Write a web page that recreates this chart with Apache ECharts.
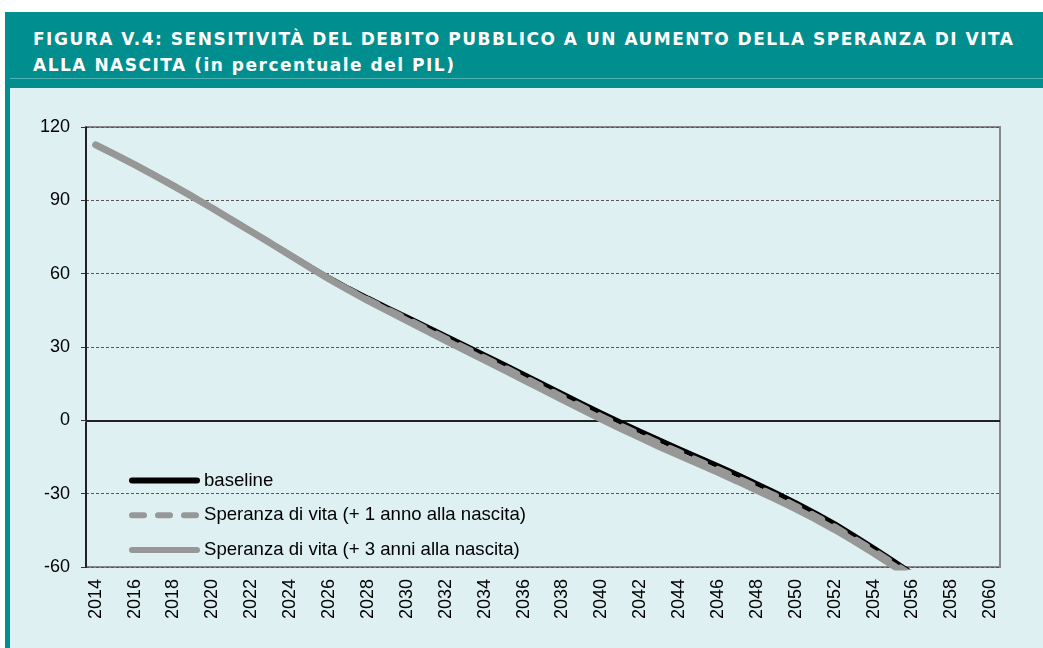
<!DOCTYPE html>
<html>
<head>
<meta charset="utf-8">
<script src="https://cdn.jsdelivr.net/npm/echarts/dist/echarts.min.js"></script>
<style>
  html, body { margin: 0; padding: 0; background: #ffffff; width: 1043px; height: 648px; overflow: hidden; }
  #frame { position: absolute; left: 5px; top: 12px; right: 0; bottom: 0; background: #008e8e; }
  #title {
    position: absolute; left: 28px; top: 14px;
    font-family: "DejaVu Sans", sans-serif; font-weight: bold; font-size: 17px;
    letter-spacing: 1.5px; line-height: 26px; color: #ffffff; white-space: nowrap;
  }
  #sep { position: absolute; left: 5px; right: 0; top: 66px; height: 1px; background: #4fb3b3; }
  #chart { position: absolute; left: 10px; top: 88px; width: 1033px; height: 560px; background: #def0f2; }
</style>
</head>
<body>
<div id="frame">
  <div id="title">FIGURA V.4: SENSITIVITÀ DEL DEBITO PUBBLICO A UN AUMENTO DELLA SPERANZA DI VITA<br>ALLA NASCITA (in percentuale del PIL)</div>
  <div id="sep"></div>
</div>
<div id="chart"></div>
<script>
// anni sull'asse orizzontale
var anni = ["2014", "2015", "2016", "2017", "2018", "2019", "2020", "2021", "2022", "2023",
    "2024", "2025", "2026", "2027", "2028", "2029", "2030", "2031", "2032", "2033",
    "2034", "2035", "2036", "2037", "2038", "2039", "2040", "2041", "2042", "2043",
    "2044", "2045", "2046", "2047", "2048", "2049", "2050", "2051", "2052", "2053",
    "2054", "2055", "2056", "2057", "2058", "2059", "2060"];

// debito in % del PIL (2014-2056)
var baseline = [112.7, 108.7, 104.6, 100.4, 96.0, 91.5, 86.9, 82.2, 77.4, 72.6,
    67.8, 63.0, 58.3, 54.0, 50.0, 46.1, 42.3, 38.4, 34.5, 30.6,
    26.7, 22.8, 18.9, 14.9, 10.9, 6.9, 3.0, -0.8, -4.5, -8.1,
    -11.6, -15.1, -18.6, -22.2, -25.9, -29.7, -33.7, -37.9, -42.3, -47.2,
    -52.2, -57.4, -62.7];

var piu1anno = [112.7, 108.7, 104.6, 100.4, 96.0, 91.5, 86.8, 82.1, 77.3, 72.5,
    67.7, 62.8, 58.0, 53.6, 49.5, 45.5, 41.6, 37.6, 33.6, 29.7,
    25.7, 21.8, 17.8, 13.8, 9.7, 5.7, 1.7, -2.1, -5.8, -9.4,
    -12.9, -16.4, -19.9, -23.5, -27.2, -30.9, -34.9, -39.0, -43.4, -48.2,
    -53.1, -58.2, -63.4];

var piu3anni = [112.7, 108.7, 104.6, 100.3, 95.9, 91.4, 86.8, 82.0, 77.2, 72.4,
    67.5, 62.6, 57.8, 53.3, 49.0, 44.9, 40.8, 36.7, 32.6, 28.6,
    24.6, 20.6, 16.6, 12.6, 8.5, 4.5, 0.5, -3.4, -7.1, -10.8,
    -14.3, -17.8, -21.3, -24.9, -28.6, -32.3, -36.2, -40.3, -44.7, -49.4,
    -54.3, -59.4, -64.5];

var nomi = ["baseline", "Speranza di vita (+ 1 anno alla nascita)", "Speranza di vita (+ 3 anni alla nascita)"];

var font = "Liberation Sans, Arial, sans-serif";
var myChart = echarts.init(document.getElementById("chart"));

var option = {
    animation: false,
    backgroundColor: "#def0f2",
    grid: {
        left: 76,
        right: 43,
        top: 39,
        bottom: 81,
        show: true,
        backgroundColor: "transparent",
        borderColor: "#888888",
        borderWidth: 2
    },
    legend: {
        orient: "vertical",
        left: 119,
        top: 383,
        padding: 0,
        itemWidth: 65,
        itemHeight: 14,
        itemGap: 15.7,
        data: nomi,
        itemStyle: { opacity: 0 },
        lineStyle: { width: 6, cap: "round" },
        textStyle: { fontFamily: font, fontSize: 18.6, color: "#000000", lineHeight: 18, padding: [0, 0, 0, 2] }
    },
    xAxis: {
        type: "category",
        data: anni,
        boundaryGap: true,
        axisLine: { show: true, lineStyle: { color: "#888888", width: 2 } },
        axisTick: { show: false },
        axisLabel: {
            interval: 1,
            rotate: 90,
            margin: 12,
            fontFamily: font,
            fontSize: 18,
            color: "#000000"
        },
        splitLine: { show: false }
    },
    yAxis: {
        type: "value",
        min: -60,
        max: 120,
        interval: 30,
        axisLine: { show: true, lineStyle: { color: "#000000", width: 1.5 } },
        axisTick: { show: true, length: 5, lineStyle: { color: "#333333" } },
        axisLabel: { fontFamily: font, fontSize: 18, color: "#000000", margin: 16 },
        splitLine: { show: true, lineStyle: { color: "#555555", width: 1, type: [3, 2] } }
    },
    series: [
        {
            name: nomi[0],
            type: "line",
            data: baseline,
            symbol: "none",
            lineStyle: { color: "#000000", width: 5, cap: "round" },
            itemStyle: { color: "#000000" },
            markLine: {
                silent: true,
                z: 1,
                symbol: "none",
                label: { show: false },
                lineStyle: { color: "#000000", width: 1.5, type: "solid" },
                data: [{ yAxis: 0 }]
            }
        },
        {
            name: nomi[1],
            type: "line",
            data: piu1anno,
            symbol: "none",
            lineStyle: { color: "#979797", width: 6, type: [12, 14], cap: "round" },
            itemStyle: { color: "#979797" }
        },
        {
            name: nomi[2],
            type: "line",
            data: piu3anni,
            symbol: "none",
            lineStyle: { color: "#979797", width: 7, cap: "round" },
            itemStyle: { color: "#979797" }
        }
    ]
};

myChart.setOption(option);
</script>
</body>
</html>
